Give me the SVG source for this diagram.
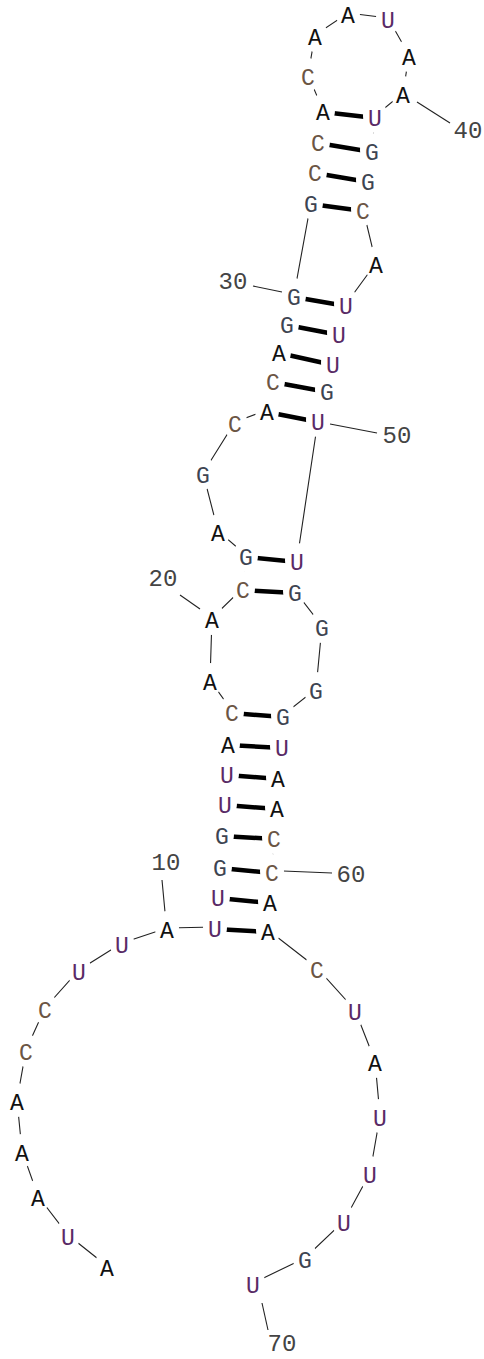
<svg xmlns="http://www.w3.org/2000/svg" width="484" height="1359" viewBox="0 0 484 1359">
<style>
.bb{fill:none;stroke:#222;stroke-width:1.1}
.bond{stroke:#000;stroke-width:4.5;stroke-linecap:butt}
.lbl{stroke:#222;stroke-width:1.1}
.m{fill:#fff}
.n{font-family:"Liberation Mono","Courier New",monospace;font-size:23px;text-anchor:middle}
.A{fill:#111}.U{fill:#5a2a66}.C{fill:#6b5544}.G{fill:#3d4452}
.num{font-family:"Liberation Mono","Courier New",monospace;font-size:24px;text-anchor:middle;fill:#444}
</style>
<rect width="484" height="1359" fill="#fff"/>
<g id="connectors">
<polyline class="bb" points="107,1266 68,1235 38,1196 22,1151 17,1100 26,1050 45,1008 79,970 122,943 167,928 215,927 218,896 220,866 222,834 225,803 227,773 228,743 232,711 210,680 212,618 243,588 246,555 218,531 203,473 235,422 267,410 273,380 279,351 287,323 294,295 311,202 315,171 318,141 323,110 308,75 315,35 348,13 388,18 409,55 403,93 375,116 372,150 368,180 363,209 376,263 346,304 339,333 333,363 327,390 318,420 297,560 295,591 322,626 316,689 283,715 282,746 278,777 277,807 274,837 272,871 270,901 268,930 317,968 355,1010 375,1061 380,1116 370,1173 344,1221 305,1258 253,1283"/>
<line class="bond" x1="215" y1="929" x2="268" y2="932"/>
<line class="bond" x1="218" y1="898" x2="270" y2="903"/>
<line class="bond" x1="220" y1="868" x2="272" y2="873"/>
<line class="bond" x1="222" y1="836" x2="274" y2="839"/>
<line class="bond" x1="225" y1="805" x2="277" y2="809"/>
<line class="bond" x1="227" y1="775" x2="278" y2="779"/>
<line class="bond" x1="228" y1="745" x2="282" y2="748"/>
<line class="bond" x1="232" y1="713" x2="283" y2="717"/>
<line class="bond" x1="243" y1="590" x2="295" y2="593"/>
<line class="bond" x1="246" y1="557" x2="297" y2="562"/>
<line class="bond" x1="267" y1="412" x2="318" y2="422"/>
<line class="bond" x1="273" y1="382" x2="327" y2="392"/>
<line class="bond" x1="279" y1="353" x2="333" y2="365"/>
<line class="bond" x1="287" y1="325" x2="339" y2="335"/>
<line class="bond" x1="294" y1="297" x2="346" y2="306"/>
<line class="bond" x1="311" y1="204" x2="363" y2="211"/>
<line class="bond" x1="315" y1="173" x2="368" y2="182"/>
<line class="bond" x1="318" y1="143" x2="372" y2="152"/>
<line class="bond" x1="323" y1="112" x2="375" y2="118"/>
<line class="lbl" x1="162" y1="880" x2="165" y2="912"/>
<line class="lbl" x1="180" y1="595" x2="200" y2="609"/>
<line class="lbl" x1="253" y1="286" x2="282" y2="292"/>
<line class="lbl" x1="417" y1="102" x2="450" y2="123"/>
<line class="lbl" x1="330" y1="424" x2="377" y2="433"/>
<line class="lbl" x1="283" y1="871" x2="332" y2="873"/>
<line class="lbl" x1="262" y1="1303" x2="268" y2="1330"/>
</g>
<g id="n1"><ellipse class="m" cx="107" cy="1266" rx="12" ry="17"/><text class="n A" x="107" y="1276">A</text></g>
<g id="n2"><ellipse class="m" cx="68" cy="1235" rx="12" ry="17"/><text class="n U" x="68" y="1245">U</text></g>
<g id="n3"><ellipse class="m" cx="38" cy="1196" rx="12" ry="17"/><text class="n A" x="38" y="1206">A</text></g>
<g id="n4"><ellipse class="m" cx="22" cy="1151" rx="12" ry="17"/><text class="n A" x="22" y="1161">A</text></g>
<g id="n5"><ellipse class="m" cx="17" cy="1100" rx="12" ry="17"/><text class="n A" x="17" y="1110">A</text></g>
<g id="n6"><ellipse class="m" cx="26" cy="1050" rx="12" ry="17"/><text class="n C" x="26" y="1060">C</text></g>
<g id="n7"><ellipse class="m" cx="45" cy="1008" rx="12" ry="17"/><text class="n C" x="45" y="1018">C</text></g>
<g id="n8"><ellipse class="m" cx="79" cy="970" rx="12" ry="17"/><text class="n U" x="79" y="980">U</text></g>
<g id="n9"><ellipse class="m" cx="122" cy="943" rx="12" ry="17"/><text class="n U" x="122" y="953">U</text></g>
<g id="n10"><ellipse class="m" cx="167" cy="928" rx="12" ry="17"/><text class="n A" x="167" y="938">A</text></g>
<g id="n11"><ellipse class="m" cx="215" cy="927" rx="12" ry="17"/><text class="n U" x="215" y="937">U</text></g>
<g id="n12"><ellipse class="m" cx="218" cy="896" rx="12" ry="17"/><text class="n U" x="218" y="906">U</text></g>
<g id="n13"><ellipse class="m" cx="220" cy="866" rx="12" ry="17"/><text class="n G" x="220" y="876">G</text></g>
<g id="n14"><ellipse class="m" cx="222" cy="834" rx="12" ry="17"/><text class="n G" x="222" y="844">G</text></g>
<g id="n15"><ellipse class="m" cx="225" cy="803" rx="12" ry="17"/><text class="n U" x="225" y="813">U</text></g>
<g id="n16"><ellipse class="m" cx="227" cy="773" rx="12" ry="17"/><text class="n U" x="227" y="783">U</text></g>
<g id="n17"><ellipse class="m" cx="228" cy="743" rx="12" ry="17"/><text class="n A" x="228" y="753">A</text></g>
<g id="n18"><ellipse class="m" cx="232" cy="711" rx="12" ry="17"/><text class="n C" x="232" y="721">C</text></g>
<g id="n19"><ellipse class="m" cx="210" cy="680" rx="12" ry="17"/><text class="n A" x="210" y="690">A</text></g>
<g id="n20"><ellipse class="m" cx="212" cy="618" rx="12" ry="17"/><text class="n A" x="212" y="628">A</text></g>
<g id="n21"><ellipse class="m" cx="243" cy="588" rx="12" ry="17"/><text class="n C" x="243" y="598">C</text></g>
<g id="n22"><ellipse class="m" cx="246" cy="555" rx="12" ry="17"/><text class="n G" x="246" y="565">G</text></g>
<g id="n23"><ellipse class="m" cx="218" cy="531" rx="12" ry="17"/><text class="n A" x="218" y="541">A</text></g>
<g id="n24"><ellipse class="m" cx="203" cy="473" rx="12" ry="17"/><text class="n G" x="203" y="483">G</text></g>
<g id="n25"><ellipse class="m" cx="235" cy="422" rx="12" ry="17"/><text class="n C" x="235" y="432">C</text></g>
<g id="n26"><ellipse class="m" cx="267" cy="410" rx="12" ry="17"/><text class="n A" x="267" y="420">A</text></g>
<g id="n27"><ellipse class="m" cx="273" cy="380" rx="12" ry="17"/><text class="n C" x="273" y="390">C</text></g>
<g id="n28"><ellipse class="m" cx="279" cy="351" rx="12" ry="17"/><text class="n A" x="279" y="361">A</text></g>
<g id="n29"><ellipse class="m" cx="287" cy="323" rx="12" ry="17"/><text class="n G" x="287" y="333">G</text></g>
<g id="n30"><ellipse class="m" cx="294" cy="295" rx="12" ry="17"/><text class="n G" x="294" y="305">G</text></g>
<g id="n31"><ellipse class="m" cx="311" cy="202" rx="12" ry="17"/><text class="n G" x="311" y="212">G</text></g>
<g id="n32"><ellipse class="m" cx="315" cy="171" rx="12" ry="17"/><text class="n C" x="315" y="181">C</text></g>
<g id="n33"><ellipse class="m" cx="318" cy="141" rx="12" ry="17"/><text class="n C" x="318" y="151">C</text></g>
<g id="n34"><ellipse class="m" cx="323" cy="110" rx="12" ry="17"/><text class="n A" x="323" y="120">A</text></g>
<g id="n35"><ellipse class="m" cx="308" cy="75" rx="12" ry="17"/><text class="n C" x="308" y="85">C</text></g>
<g id="n36"><ellipse class="m" cx="315" cy="35" rx="12" ry="17"/><text class="n A" x="315" y="45">A</text></g>
<g id="n37"><ellipse class="m" cx="348" cy="13" rx="12" ry="17"/><text class="n A" x="348" y="23">A</text></g>
<g id="n38"><ellipse class="m" cx="388" cy="18" rx="12" ry="17"/><text class="n U" x="388" y="28">U</text></g>
<g id="n39"><ellipse class="m" cx="409" cy="55" rx="12" ry="17"/><text class="n A" x="409" y="65">A</text></g>
<g id="n40"><ellipse class="m" cx="403" cy="93" rx="12" ry="17"/><text class="n A" x="403" y="103">A</text></g>
<g id="n41"><ellipse class="m" cx="375" cy="116" rx="12" ry="17"/><text class="n U" x="375" y="126">U</text></g>
<g id="n42"><ellipse class="m" cx="372" cy="150" rx="12" ry="17"/><text class="n G" x="372" y="160">G</text></g>
<g id="n43"><ellipse class="m" cx="368" cy="180" rx="12" ry="17"/><text class="n G" x="368" y="190">G</text></g>
<g id="n44"><ellipse class="m" cx="363" cy="209" rx="12" ry="17"/><text class="n C" x="363" y="219">C</text></g>
<g id="n45"><ellipse class="m" cx="376" cy="263" rx="12" ry="17"/><text class="n A" x="376" y="273">A</text></g>
<g id="n46"><ellipse class="m" cx="346" cy="304" rx="12" ry="17"/><text class="n U" x="346" y="314">U</text></g>
<g id="n47"><ellipse class="m" cx="339" cy="333" rx="12" ry="17"/><text class="n U" x="339" y="343">U</text></g>
<g id="n48"><ellipse class="m" cx="333" cy="363" rx="12" ry="17"/><text class="n U" x="333" y="373">U</text></g>
<g id="n49"><ellipse class="m" cx="327" cy="390" rx="12" ry="17"/><text class="n G" x="327" y="400">G</text></g>
<g id="n50"><ellipse class="m" cx="318" cy="420" rx="12" ry="17"/><text class="n U" x="318" y="430">U</text></g>
<g id="n51"><ellipse class="m" cx="297" cy="560" rx="12" ry="17"/><text class="n U" x="297" y="570">U</text></g>
<g id="n52"><ellipse class="m" cx="295" cy="591" rx="12" ry="17"/><text class="n G" x="295" y="601">G</text></g>
<g id="n53"><ellipse class="m" cx="322" cy="626" rx="12" ry="17"/><text class="n G" x="322" y="636">G</text></g>
<g id="n54"><ellipse class="m" cx="316" cy="689" rx="12" ry="17"/><text class="n G" x="316" y="699">G</text></g>
<g id="n55"><ellipse class="m" cx="283" cy="715" rx="12" ry="17"/><text class="n G" x="283" y="725">G</text></g>
<g id="n56"><ellipse class="m" cx="282" cy="746" rx="12" ry="17"/><text class="n U" x="282" y="756">U</text></g>
<g id="n57"><ellipse class="m" cx="278" cy="777" rx="12" ry="17"/><text class="n A" x="278" y="787">A</text></g>
<g id="n58"><ellipse class="m" cx="277" cy="807" rx="12" ry="17"/><text class="n A" x="277" y="817">A</text></g>
<g id="n59"><ellipse class="m" cx="274" cy="837" rx="12" ry="17"/><text class="n C" x="274" y="847">C</text></g>
<g id="n60"><ellipse class="m" cx="272" cy="871" rx="12" ry="17"/><text class="n C" x="272" y="881">C</text></g>
<g id="n61"><ellipse class="m" cx="270" cy="901" rx="12" ry="17"/><text class="n A" x="270" y="911">A</text></g>
<g id="n62"><ellipse class="m" cx="268" cy="930" rx="12" ry="17"/><text class="n A" x="268" y="940">A</text></g>
<g id="n63"><ellipse class="m" cx="317" cy="968" rx="12" ry="17"/><text class="n C" x="317" y="978">C</text></g>
<g id="n64"><ellipse class="m" cx="355" cy="1010" rx="12" ry="17"/><text class="n U" x="355" y="1020">U</text></g>
<g id="n65"><ellipse class="m" cx="375" cy="1061" rx="12" ry="17"/><text class="n A" x="375" y="1071">A</text></g>
<g id="n66"><ellipse class="m" cx="380" cy="1116" rx="12" ry="17"/><text class="n U" x="380" y="1126">U</text></g>
<g id="n67"><ellipse class="m" cx="370" cy="1173" rx="12" ry="17"/><text class="n U" x="370" y="1183">U</text></g>
<g id="n68"><ellipse class="m" cx="344" cy="1221" rx="12" ry="17"/><text class="n U" x="344" y="1231">U</text></g>
<g id="n69"><ellipse class="m" cx="305" cy="1258" rx="12" ry="17"/><text class="n G" x="305" y="1268">G</text></g>
<g id="n70"><ellipse class="m" cx="253" cy="1283" rx="12" ry="17"/><text class="n U" x="253" y="1293">U</text></g>
<g id="labels">
<text class="num" x="166" y="870">10</text>
<text class="num" x="163" y="586">20</text>
<text class="num" x="233" y="289">30</text>
<text class="num" x="468" y="138">40</text>
<text class="num" x="397" y="443">50</text>
<text class="num" x="351" y="882">60</text>
<text class="num" x="282" y="1351">70</text>
</g>
</svg>
